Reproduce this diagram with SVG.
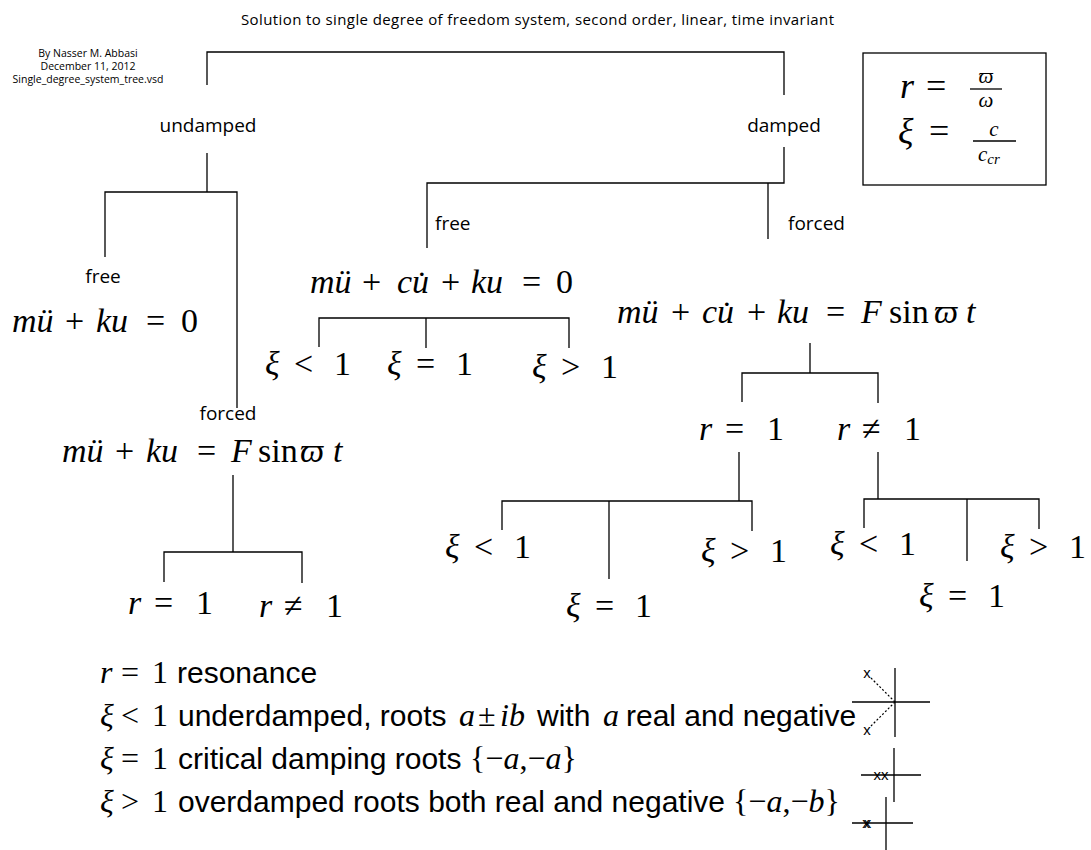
<svg xmlns="http://www.w3.org/2000/svg" width="1091" height="850" viewBox="0 0 1091 850">
<style>
.ln{stroke:#000;stroke-width:1.3;fill:none}
.dot{stroke:#000;stroke-width:1.2;fill:none;stroke-dasharray:2,2}
.lbl{font-family:"Open Sans","Liberation Sans",sans-serif;font-size:19px;fill:#000}
.ttl{font-family:"Open Sans","Liberation Sans",sans-serif;font-size:15px;fill:#000}
.auth{font-family:"Open Sans","Liberation Sans",sans-serif;font-size:10.5px;fill:#000}
.eq{font-family:"Liberation Serif","DejaVu Serif",serif;font-size:34px;fill:#000}
.bx{font-family:"Liberation Serif","DejaVu Serif",serif;font-size:36px;fill:#000}
.fr{font-family:"Liberation Serif","DejaVu Serif",serif;font-size:21px;fill:#000;font-style:italic}
.lg{font-family:"Liberation Serif","DejaVu Serif",serif;font-size:32px;fill:#000}
.sw{font-family:"Liberation Sans",Arial,sans-serif;font-size:30px}
.it{font-style:italic}
.mk{font-family:"Liberation Sans",Arial,sans-serif;font-size:15px;fill:#000}
</style>
<g id="title"><text class="ttl" x="241" y="25" textLength="593">Solution to single degree of freedom system, second order, linear, time invariant</text></g>
<g id="author">
<text class="auth" x="88" y="57" text-anchor="middle">By Nasser M. Abbasi</text>
<text class="auth" x="88" y="70" text-anchor="middle">December 11, 2012</text>
<text class="auth" x="88" y="83" text-anchor="middle">Single_degree_system_tree.vsd</text>
</g>
<g id="connectors">
<path class="ln" d="M207,85 V52 H784 V95"/>
<path class="ln" d="M207,153 V192"/>
<path class="ln" d="M105,257 V192 H237 V408"/>
<path class="ln" d="M784,147 V183 H427 V248"/>
<path class="ln" d="M768,183 V239"/>
<path class="ln" d="M319,347 V318 H569 V348"/>
<path class="ln" d="M426,318 V348"/>
<path class="ln" d="M810,343 V373"/>
<path class="ln" d="M742,402 V373 H878 V403"/>
<path class="ln" d="M739,452 V501"/>
<path class="ln" d="M502,530 V501 H752 V531"/>
<path class="ln" d="M609,501 V579"/>
<path class="ln" d="M878,452 V499"/>
<path class="ln" d="M864,528 V499 H1039 V529"/>
<path class="ln" d="M967,499 V561"/>
<path class="ln" d="M233,475 V552"/>
<path class="ln" d="M164,582 V552 H302 V583"/>
</g>
<g id="defs-box">
<rect class="ln" x="863" y="53" width="183" height="132"/>
<text class="bx" y="98"><tspan class="it" x="900">r</tspan><tspan x="926">=</tspan></text>
<text class="fr" x="986" y="83" text-anchor="middle">ϖ</text>
<line class="ln" x1="970" y1="89" x2="1002" y2="89"/>
<text class="fr" x="986" y="107" text-anchor="middle">ω</text>
<text class="bx" y="143"><tspan class="it" x="898">ξ</tspan><tspan x="929">=</tspan></text>
<text class="fr" x="994" y="136" text-anchor="middle">c</text>
<line class="ln" x1="973" y1="141" x2="1016" y2="141"/>
<text class="fr" x="978" y="161">c<tspan font-size="15" dy="3">cr</tspan></text>
</g>
<g id="undamped"><text class="lbl" x="208" y="132" text-anchor="middle">undamped</text></g>
<g id="damped"><text class="lbl" x="784" y="132" text-anchor="middle">damped</text></g>
<g id="u-free">
<text class="lbl" x="103" y="283" text-anchor="middle">free</text>
<text class="eq" y="332"><tspan class="it" x="12">mü</tspan><tspan x="65">+</tspan><tspan class="it" x="96">ku</tspan><tspan x="146">=</tspan><tspan x="181">0</tspan></text>
</g>
<g id="u-forced">
<text class="lbl" x="228" y="420" text-anchor="middle">forced</text>
<text class="eq" y="462"><tspan class="it" x="62">mü</tspan><tspan x="115">+</tspan><tspan class="it" x="146">ku</tspan><tspan x="197">=</tspan><tspan class="it" x="231">F</tspan><tspan x="258">sin</tspan><tspan class="it" x="300">ϖ</tspan><tspan class="it" x="333">t</tspan></text>
</g>
<g id="u-r">
<text class="eq" y="614"><tspan class="it" x="128">r</tspan><tspan x="154">=</tspan><tspan x="196">1</tspan></text>
<text class="eq" y="617"><tspan class="it" x="259">r</tspan><tspan x="284">≠</tspan><tspan x="326">1</tspan></text>
</g>
<g id="d-free">
<text class="lbl" x="435" y="230">free</text>
<text class="eq" y="293"><tspan class="it" x="310">mü</tspan><tspan x="362">+</tspan><tspan class="it" x="397">cu̇</tspan><tspan x="441">+</tspan><tspan class="it" x="471">ku</tspan><tspan x="522">=</tspan><tspan x="556">0</tspan></text>
<text class="eq" y="375"><tspan class="it" x="265">ξ</tspan><tspan x="294">&lt;</tspan><tspan x="334">1</tspan></text>
<text class="eq" y="375"><tspan class="it" x="387">ξ</tspan><tspan x="416">=</tspan><tspan x="456">1</tspan></text>
<text class="eq" y="378"><tspan class="it" x="532">ξ</tspan><tspan x="561">&gt;</tspan><tspan x="601">1</tspan></text>
</g>
<g id="d-forced">
<text class="lbl" x="788" y="230">forced</text>
<text class="eq" y="323"><tspan class="it" x="617">mü</tspan><tspan x="671">+</tspan><tspan class="it" x="702">cu̇</tspan><tspan x="747">+</tspan><tspan class="it" x="777">ku</tspan><tspan x="826">=</tspan><tspan class="it" x="861">F</tspan><tspan x="889">sin</tspan><tspan class="it" x="934">ϖ</tspan><tspan class="it" x="966">t</tspan></text>
<text class="eq" y="440"><tspan class="it" x="699">r</tspan><tspan x="725">=</tspan><tspan x="767">1</tspan></text>
<text class="eq" y="440"><tspan class="it" x="837">r</tspan><tspan x="862">≠</tspan><tspan x="904">1</tspan></text>
</g>
<g id="d-r1">
<text class="eq" y="558"><tspan class="it" x="445">ξ</tspan><tspan x="474">&lt;</tspan><tspan x="514">1</tspan></text>
<text class="eq" y="617"><tspan class="it" x="566">ξ</tspan><tspan x="595">=</tspan><tspan x="635">1</tspan></text>
<text class="eq" y="562"><tspan class="it" x="701">ξ</tspan><tspan x="730">&gt;</tspan><tspan x="770">1</tspan></text>
</g>
<g id="d-rn1">
<text class="eq" y="555"><tspan class="it" x="830">ξ</tspan><tspan x="859">&lt;</tspan><tspan x="899">1</tspan></text>
<text class="eq" y="607"><tspan class="it" x="919">ξ</tspan><tspan x="948">=</tspan><tspan x="988">1</tspan></text>
<text class="eq" y="558"><tspan class="it" x="1000">ξ</tspan><tspan x="1029">&gt;</tspan><tspan x="1069">1</tspan></text>
</g>
<g id="legend">
<text class="lg" y="683"><tspan class="it" x="100">r</tspan><tspan x="121">=</tspan><tspan x="152">1</tspan><tspan class="sw" x="177">resonance</tspan></text>
<text class="lg" y="726"><tspan class="it" x="100">ξ</tspan><tspan x="121">&lt;</tspan><tspan x="152">1</tspan><tspan class="sw" x="178">underdamped, roots</tspan><tspan class="it" x="459">a</tspan><tspan x="478">±</tspan><tspan class="it" x="500">ib</tspan><tspan class="sw" x="537">with</tspan><tspan class="it" x="603">a</tspan><tspan class="sw" x="626">real and negative</tspan></text>
<text class="lg" y="769"><tspan class="it" x="100">ξ</tspan><tspan x="121">=</tspan><tspan x="152">1</tspan><tspan class="sw" x="178">critical damping roots</tspan><tspan x="470">{−</tspan><tspan class="it">a</tspan><tspan>,−</tspan><tspan class="it">a</tspan><tspan>}</tspan></text>
<text class="lg" y="812"><tspan class="it" x="100">ξ</tspan><tspan x="121">&gt;</tspan><tspan x="152">1</tspan><tspan class="sw" x="178">overdamped roots both real and negative</tspan><tspan x="733">{−</tspan><tspan class="it">a</tspan><tspan>,−</tspan><tspan class="it">b</tspan><tspan>}</tspan></text>
</g>
<g id="locus1">
<path class="ln" d="M895,668 V737 M852,702 H930"/>
<path class="dot" d="M895,702 L870,677 M895,702 L870,727"/>
<text class="mk" x="867" y="678" text-anchor="middle">x</text>
<text class="mk" x="867" y="735" text-anchor="middle">x</text>
</g>
<g id="locus2">
<path class="ln" d="M894,748 V802 M861,775 H921"/>
<text class="mk" x="881" y="780" text-anchor="middle">xx</text>
</g>
<g id="locus3">
<path class="ln" d="M886,797 V850 M852,823 H913"/>
<text class="mk" x="866" y="828" text-anchor="middle">x</text>
<text class="mk" x="867.5" y="828" text-anchor="middle">x</text>
</g>
</svg>
